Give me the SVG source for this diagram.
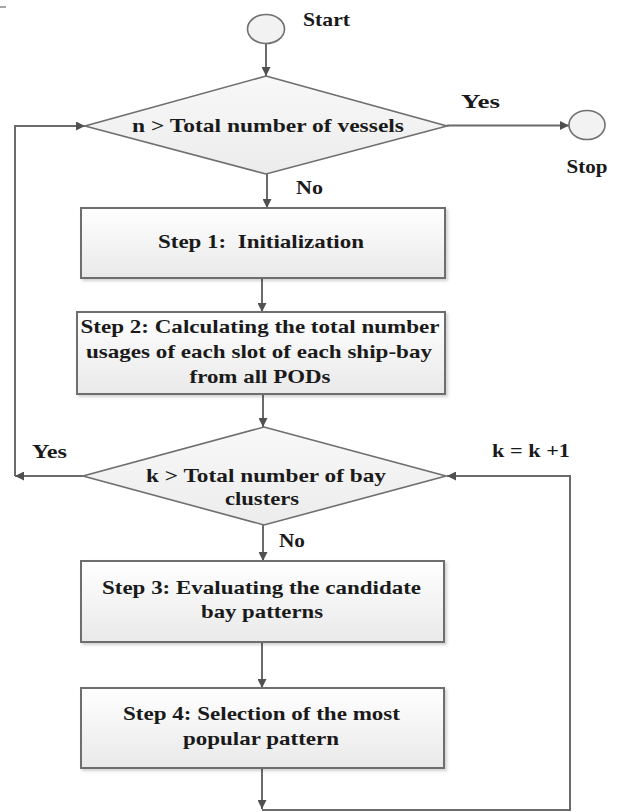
<svg xmlns="http://www.w3.org/2000/svg" width="621" height="812" viewBox="0 0 621 812">
<defs>
<linearGradient id="gBox" x1="0" y1="0" x2="0" y2="1">
<stop offset="0" stop-color="#ffffff"/>
<stop offset="1" stop-color="#e9e9e9"/>
</linearGradient>
<linearGradient id="gDia" x1="0" y1="0" x2="0" y2="1">
<stop offset="0" stop-color="#f8f8f8"/>
<stop offset="1" stop-color="#ececec"/>
</linearGradient>
<filter id="sh" x="-5%" y="-5%" width="115%" height="120%">
<feDropShadow dx="2" dy="2" stdDeviation="1.5" flood-color="#000" flood-opacity="0.18"/>
</filter>
<marker id="ah" viewBox="0 0 10 10" refX="10" refY="5" markerWidth="10" markerHeight="9" markerUnits="userSpaceOnUse" orient="auto">
<path d="M0,0 L10,5 L0,10 Z" fill="#505050"/>
</marker>
</defs>
<style>
.box{fill:url(#gBox);stroke:#6e6e6e;stroke-width:2;filter:url(#sh)}
.dia{fill:url(#gDia);stroke:#6e6e6e;stroke-width:1.6}
.term{fill:#f2f2f2;stroke:#707070;stroke-width:1.6}
.con{fill:none;stroke:#6a6a6a;stroke-width:2}
.arr{marker-end:url(#ah)}
text{font-family:'Liberation Serif','DejaVu Serif','Noto Serif',serif;font-weight:700;font-size:19.5px;fill:#1a1a1a}
.c{text-anchor:middle}
</style>
<rect width="621" height="812" fill="#ffffff"/>
<line x1="0" y1="7" x2="6" y2="7" stroke="#888" stroke-width="1.5"/>

<g id="connectors">
<path class="con arr" d="M266,43.5 V76"/>
<path class="con arr" d="M447,125.5 H569"/>
<path class="con arr" d="M267,174 V208"/>
<path class="con arr" d="M262,278 V312"/>
<path class="con arr" d="M263,394 V427"/>
<path class="con arr" d="M263,525 V561"/>
<path class="con arr" d="M262,642 V688"/>
<path class="con arr" d="M262,768 V809"/>
<path class="con arr" d="M262,810 H570 V476 H447"/>
<path class="con arr" d="M83,476 H15"/>
<path class="con arr" d="M15,476 V126 H85"/>
</g>

<g id="start" font-family="Liberation Serif, serif">
<ellipse class="term" cx="266" cy="29" rx="18.5" ry="14.5"/>
<text x="303" y="26" textLength="47" lengthAdjust="spacingAndGlyphs">Start</text>
</g>

<g id="decision1">
<polygon class="dia" points="266,76 447,126 266,174 85,126"/>
<text x="268" y="132" class="c" textLength="272" lengthAdjust="spacingAndGlyphs">n &gt; Total number of vessels</text>
</g>

<g id="stop">
<ellipse class="term" cx="587" cy="125" rx="18" ry="14.5"/>
<text x="587" y="173" class="c" textLength="41" lengthAdjust="spacingAndGlyphs">Stop</text>
</g>

<g id="step1">
<rect class="box" x="81" y="208" width="364" height="70"/>
<text x="261" y="248" class="c" textLength="206" lengthAdjust="spacingAndGlyphs" xml:space="preserve">Step 1:  Initialization</text>
</g>

<g id="step2">
<rect class="box" x="77" y="312" width="368" height="82"/>
<text x="260" y="333" class="c" textLength="359" lengthAdjust="spacingAndGlyphs">Step 2: Calculating the total number</text>
<text x="259" y="358" class="c" textLength="346" lengthAdjust="spacingAndGlyphs">usages of each slot of each ship-bay</text>
<text x="260" y="383" class="c" textLength="141" lengthAdjust="spacingAndGlyphs">from all PODs</text>
</g>

<g id="decision2">
<polygon class="dia" points="264,427 446,476 264,525 83,476"/>
<text x="266" y="482" class="c" textLength="240" lengthAdjust="spacingAndGlyphs">k &gt; Total number of bay</text>
<text x="262" y="505" class="c" textLength="74" lengthAdjust="spacingAndGlyphs">clusters</text>
</g>

<g id="step3">
<rect class="box" x="81" y="561" width="363" height="81"/>
<text x="261.5" y="594" class="c" textLength="319" lengthAdjust="spacingAndGlyphs">Step 3: Evaluating the candidate</text>
<text x="262" y="618" class="c" textLength="122" lengthAdjust="spacingAndGlyphs">bay patterns</text>
</g>

<g id="step4">
<rect class="box" x="81" y="688" width="363" height="80"/>
<text x="261.5" y="720" class="c" textLength="277" lengthAdjust="spacingAndGlyphs">Step 4: Selection of the most</text>
<text x="261" y="745" class="c" textLength="156" lengthAdjust="spacingAndGlyphs">popular pattern</text>
</g>

<g id="labels">
<text x="480.5" y="108" class="c" textLength="39" lengthAdjust="spacingAndGlyphs">Yes</text>
<text x="309.5" y="194" class="c" textLength="27" lengthAdjust="spacingAndGlyphs">No</text>
<text x="49.5" y="458" class="c" textLength="35" lengthAdjust="spacingAndGlyphs">Yes</text>
<text x="531" y="457" class="c" textLength="78" lengthAdjust="spacingAndGlyphs">k = k +1</text>
<text x="292" y="547" class="c" textLength="26" lengthAdjust="spacingAndGlyphs">No</text>
</g>
</svg>
